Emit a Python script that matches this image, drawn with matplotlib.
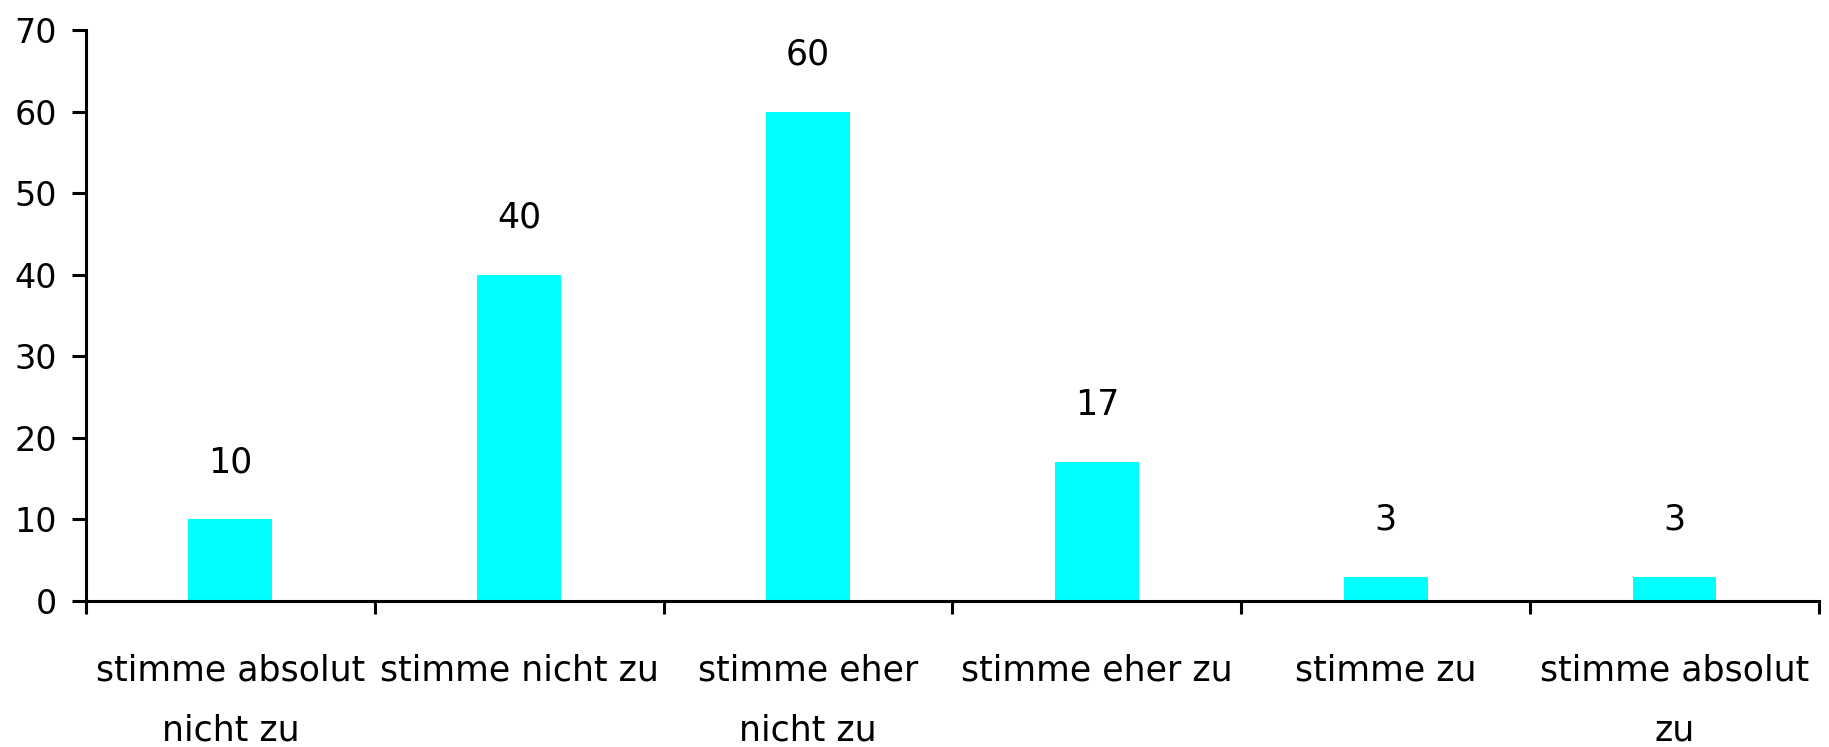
import numpy as np
from matplotlib import pyplot as plt

categories = ["stimme absolut\nnicht zu", "stimme nicht zu", "stimme eher\nnicht zu",
              "stimme eher zu", "stimme zu", "stimme absolut\nzu"]
values = [10, 40, 60, 17, 3, 3]
y_ticks = [0, 10, 20, 30, 40, 50, 60, 70]

plt.rcParams['font.family'] = ['DejaVu Sans']

fig = plt.figure(figsize=(18.29, 7.47), dpi=100)
ax = fig.add_axes([0.047, 0.1954, 0.9475, 0.7644])

x = np.arange(len(values)) + 0.5
bars = ax.bar(x, values, width=0.29, color="#00FFFF")

for xi, v in zip(x, values):
    ax.annotate(str(v), (xi, v), xytext=(0, 34), textcoords="offset points",
                ha="center", va="baseline", fontsize=25)

ax.set_xlim(0, len(values))
ax.set_ylim(0, 70)
ax.set_yticks(y_ticks)
ax.set_yticklabels([str(t) for t in y_ticks], fontsize=24)

# ticks on category boundaries, labels in the middle
ax.set_xticks(np.arange(len(values) + 1))
ax.set_xticklabels([])
ax.set_xticks(x, minor=True)
ax.set_xticklabels(categories, minor=True, fontsize=25, linespacing=1.95)
ax.tick_params(axis="x", which="minor", length=0, pad=38)
ax.tick_params(axis="x", which="major", length=9.5, width=2.2, direction="out")
ax.tick_params(axis="y", length=10, width=2.2, direction="out", pad=11)

for side in ["top", "right"]:
    ax.spines[side].set_visible(False)
for side in ["left", "bottom"]:
    ax.spines[side].set_linewidth(2.2)

fig.savefig("out.png", dpi=100)
